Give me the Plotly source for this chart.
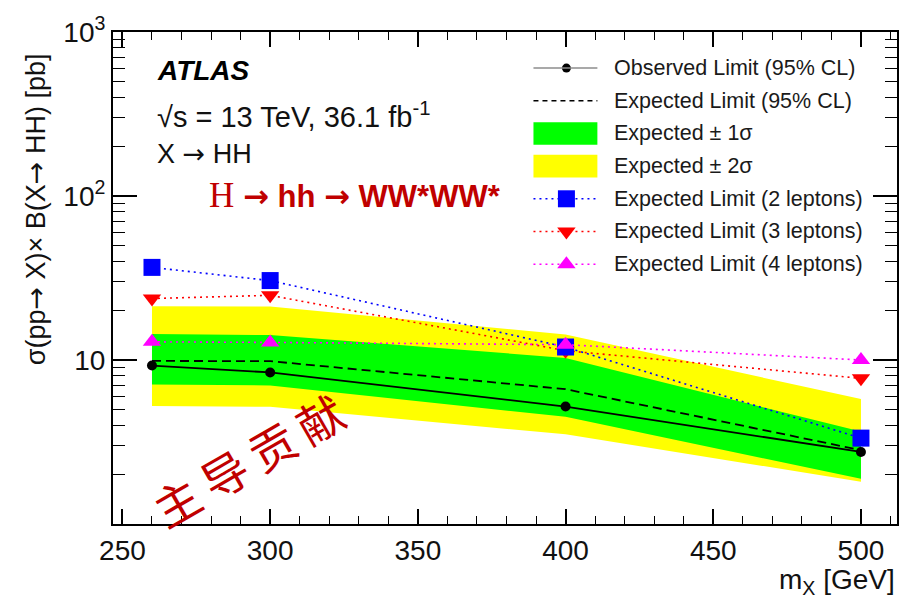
import plotly.graph_objects as go

# Resonance mass points [GeV]
mass = [260, 300, 400, 500]

# 95% CL upper limits on sigma(pp->X) x B(X->HH) [pb]
observed = [9.25, 8.4, 5.2, 2.75]
expected = [9.87, 9.84, 6.64, 2.82]
band1_lo = [7.1, 7.0, 4.5, 1.89]
band1_hi = [14.4, 14.2, 10.3, 3.66]
band2_lo = [5.25, 5.18, 3.52, 1.81]
band2_hi = [21.3, 21.2, 14.3, 5.78]
exp_2l = [36.7, 30.5, 12.0, 3.34]
exp_3l = [23.7, 24.8, 11.4, 7.73]
exp_4l = [12.9, 12.8, 12.4, 10.0]

x_ticks = [250, 300, 350, 400, 450, 500]
y_ticks = [10, 100, 1000]
y_ticktext = ["10", "10<sup>2</sup>", "10<sup>3</sup>"]

legend_labels = [
    "Observed Limit (95% CL)",
    "Expected Limit (95% CL)",
    "Expected \u00b1 1\u03c3",
    "Expected \u00b1 2\u03c3",
    "Expected Limit (2 leptons)",
    "Expected Limit (3 leptons)",
    "Expected Limit (4 leptons)",
]

FONT = "Liberation Sans, Arial, Helvetica, sans-serif"
W, H = 911, 602
ML, MR, MT, MB = 113, 13, 24, 78
PW, PH = W - ML - MR, H - MT - MB


def fx(px):
    return (px - ML) / PW


def fy(py):
    return (MT + PH - py) / PH


# arrow glyph from a font with a long arrow
ARROW = "<span style='font-family:DejaVu Sans'>\u2192</span>"

YELLOW, GREEN = "#ffff00", "#00ff00"
BLUE, RED, MAGENTA = "#0000ff", "#ff0000", "#ff00ff"
DARKRED = "#c00000"

fig = go.Figure()

# +-2 sigma band
fig.add_trace(go.Scatter(x=mass, y=band2_lo, mode="lines", line=dict(width=0),
                         showlegend=False, hoverinfo="skip"))
fig.add_trace(go.Scatter(x=mass, y=band2_hi, mode="lines", line=dict(width=0),
                         fill="tonexty", fillcolor=YELLOW, showlegend=False))
# +-1 sigma band
fig.add_trace(go.Scatter(x=mass, y=band1_lo, mode="lines", line=dict(width=0),
                         showlegend=False, hoverinfo="skip"))
fig.add_trace(go.Scatter(x=mass, y=band1_hi, mode="lines", line=dict(width=0),
                         fill="tonexty", fillcolor=GREEN, showlegend=False))

# expected and observed combined limits
fig.add_trace(go.Scatter(x=mass, y=expected, mode="lines",
                         line=dict(color="black", width=1.8, dash="9px,5px"),
                         showlegend=False))
fig.add_trace(go.Scatter(x=mass, y=observed, mode="lines+markers",
                         line=dict(color="black", width=1.8),
                         marker=dict(symbol="circle", size=10, color="black"),
                         showlegend=False))

# per-channel expected limits
fig.add_trace(go.Scatter(x=mass, y=exp_3l, mode="lines+markers",
                         line=dict(color=RED, width=1.6, dash="2px,4px"),
                         marker=dict(symbol="triangle-down", size=16, color=RED),
                         showlegend=False))
fig.add_trace(go.Scatter(x=mass, y=exp_2l, mode="lines+markers",
                         line=dict(color=BLUE, width=1.6, dash="2px,4px"),
                         marker=dict(symbol="square", size=17, color=BLUE),
                         showlegend=False))
fig.add_trace(go.Scatter(x=mass, y=exp_4l, mode="lines+markers",
                         line=dict(color=MAGENTA, width=1.6, dash="2px,4px"),
                         marker=dict(symbol="triangle-up", size=16, color=MAGENTA),
                         showlegend=False))

# ---- legend block (drawn on an overlay axis spanning the plot area) ----
row_y = [60.7 + 33.2 * i for i in range(len(legend_labels))]
gx0, gx1, gxm, tx = 534, 598, 567, 613
shapes = []
annotations = []
line_styles = [
    dict(color="#8c8c8c", width=1.5, dash="solid"),
    dict(color="black", width=1.5, dash="5px,4px"),
    None,
    None,
    dict(color=BLUE, width=1.5, dash="2px,4px"),
    dict(color=RED, width=1.5, dash="2px,4px"),
    dict(color=MAGENTA, width=1.5, dash="2px,4px"),
]
box_colors = [None, None, GREEN, YELLOW, None, None, None]
for i, label in enumerate(legend_labels):
    ry = row_y[i]
    if line_styles[i] is not None:
        shapes.append(dict(type="line", xref="paper", yref="paper",
                           x0=fx(gx0), x1=fx(gx1), y0=fy(ry), y1=fy(ry),
                           line=line_styles[i]))
    if box_colors[i] is not None:
        shapes.append(dict(type="rect", xref="paper", yref="paper",
                           x0=fx(gx0), x1=fx(gx1), y0=fy(ry + 11.5), y1=fy(ry - 11.5),
                           fillcolor=box_colors[i], line=dict(width=0)))
    annotations.append(dict(text=label, xref="paper", yref="paper",
                            x=fx(tx), y=fy(ry), xanchor="left", yanchor="middle",
                            showarrow=False,
                            font=dict(family=FONT, size=21.5, color="#1a1a1a")))

legend_markers = [
    (0, "circle", 9, "black"),
    (4, "square", 17, BLUE),
    (5, "triangle-down", 16, RED),
    (6, "triangle-up", 16, MAGENTA),
]
for idx, sym, size, col in legend_markers:
    fig.add_trace(go.Scatter(x=[fx(gxm)], y=[fy(row_y[idx])], xaxis="x2", yaxis="y2",
                             mode="markers",
                             marker=dict(symbol=sym, size=size, color=col),
                             showlegend=False, hoverinfo="skip"))

# ---- text labels ----
annotations += [
    dict(text="<b><i>ATLAS</i></b>", x=fx(155), y=fy(63), xanchor="left",
         yanchor="middle", font=dict(family=FONT, size=28, color="black")),
    dict(text="\u221as = 13 TeV, 36.1 fb<sup>-1</sup>", x=fx(155), y=fy(108),
         xanchor="left", yanchor="middle",
         font=dict(family=FONT, size=29, color="#111111")),
    dict(text="X " + ARROW + " HH", x=fx(155), y=fy(147), xanchor="left",
         yanchor="middle", font=dict(family=FONT, size=27, color="#111111")),
    dict(text="<span style='font-family:Liberation Serif;font-size:35px'>H</span>"
              " <b><span style='font-family:DejaVu Sans'>\u2192</span> hh "
              "<span style='font-family:DejaVu Sans'>\u2192</span> WW*WW*</b>",
         x=fx(207), y=fy(190), xanchor="left", yanchor="middle",
         font=dict(family=FONT, size=31, color=DARKRED)),
    dict(text="\u4e3b\u2009\u5bfc\u2009\u8d21\u2009\u732e", x=fx(248), y=fy(458),
         xanchor="center", yanchor="middle", textangle=-30,
         font=dict(family="Noto Sans CJK SC", size=46, color=DARKRED)),
    dict(text="\u03c3(pp" + ARROW + " X)\u00d7 B(X" + ARROW + " HH) [pb]",
         x=fx(35), y=fy(204), xanchor="center", yanchor="middle", textangle=-90,
         font=dict(family=FONT, size=27, color="#111111")),
    dict(text="m<sub>X</sub> [GeV]", x=1.0, y=fy(582), xanchor="right",
         yanchor="middle", font=dict(family=FONT, size=28, color="#111111")),
]
for a in annotations:
    a.setdefault("xref", "paper")
    a.setdefault("yref", "paper")
    a["showarrow"] = False

minor_y = [m * 10 ** k for k in range(0, 3) for m in range(2, 10)]

fig.update_layout(
    width=W, height=H,
    margin=dict(l=ML, r=MR, t=MT, b=MB),
    paper_bgcolor="white", plot_bgcolor="white",
    font=dict(family=FONT, size=27, color="#111111"),
    showlegend=False,
    shapes=shapes,
    annotations=annotations,
    xaxis=dict(
        range=[246.8, 512.2], tickvals=x_ticks, ticks="inside", ticklen=15,
        tickwidth=1.5, tickcolor="black", showline=True, linecolor="black",
        linewidth=2, mirror="allticks", showgrid=False, zeroline=False,
        tickfont=dict(family=FONT, size=28, color="#111111"),
        minor=dict(dtick=10, ticks="inside", ticklen=8, tickwidth=1.2,
                   tickcolor="black", showgrid=False),
    ),
    yaxis=dict(
        type="log", range=[0, 3], tickvals=y_ticks, ticktext=y_ticktext,
        ticks="inside", ticklen=24, tickwidth=1.5, tickcolor="black",
        showline=True, linecolor="black", linewidth=2, mirror="allticks",
        showgrid=False, zeroline=False,
        tickfont=dict(family=FONT, size=28, color="#111111"),
        minor=dict(tickvals=minor_y, ticks="inside", ticklen=12, tickwidth=1.2,
                   tickcolor="black", showgrid=False),
    ),
    xaxis2=dict(overlaying="x", anchor="y2", range=[0, 1], visible=False),
    yaxis2=dict(overlaying="y", anchor="x2", range=[0, 1], visible=False),
)

fig.write_html("out.html")
